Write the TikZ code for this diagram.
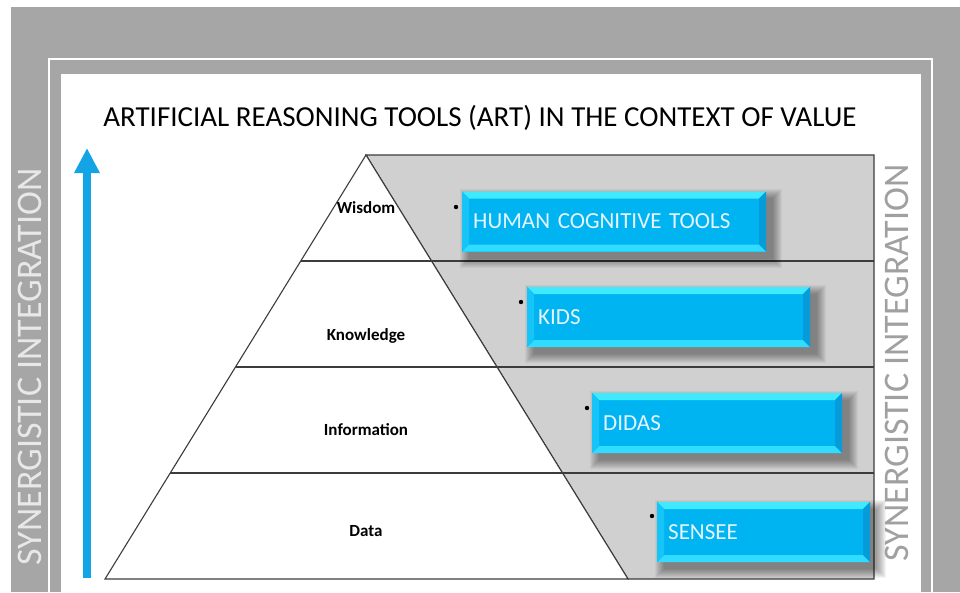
\documentclass[tikz,border=0pt]{standalone}
\usepackage{fontspec}
\setmainfont{Carlito}
\usetikzlibrary{arrows.meta,calc}
\pgfdeclarelayer{back}
\pgfdeclarelayer{shadowlayer}
\pgfsetlayers{back,shadowlayer,main}
\definecolor{bg}{HTML}{A6A6A6}
\definecolor{greyreg}{HTML}{D0D0D0}
\definecolor{lines}{HTML}{3C3C3C}
\definecolor{arrowblue}{HTML}{12A4E4}
\definecolor{boxmain}{HTML}{00B4F2}
\definecolor{bevtop}{HTML}{3FEAFF}
\definecolor{bevbot}{HTML}{30DCFF}
\definecolor{bevleft}{HTML}{16C4F8}
\definecolor{bevright}{HTML}{069CDA}
\definecolor{boxtext}{HTML}{E6F4FF}
\definecolor{righttext}{HTML}{A0A0A0}
\definecolor{lefttext}{HTML}{E8E8E8}
\newcommand{\bevelpic}{%
  \fill[bevtop] (path picture bounding box.north west) -- (path picture bounding box.north east) -- ([shift={(-7pt,-7pt)}]path picture bounding box.north east) -- ([shift={(7pt,-7pt)}]path picture bounding box.north west) -- cycle;
  \fill[bevbot] (path picture bounding box.south west) -- (path picture bounding box.south east) -- ([shift={(-7pt,7pt)}]path picture bounding box.south east) -- ([shift={(7pt,7pt)}]path picture bounding box.south west) -- cycle;
  \fill[bevleft] (path picture bounding box.north west) -- (path picture bounding box.south west) -- ([shift={(7pt,7pt)}]path picture bounding box.south west) -- ([shift={(7pt,-7pt)}]path picture bounding box.north west) -- cycle;
  \fill[bevright] (path picture bounding box.north east) -- (path picture bounding box.south east) -- ([shift={(-7pt,7pt)}]path picture bounding box.south east) -- ([shift={(-7pt,-7pt)}]path picture bounding box.north east) -- cycle;
}
\newcommand{\softshadow}[1]{%
  \begin{pgfonlayer}{shadowlayer}
  \foreach \k in {0,...,9}{
    \fill[black, opacity=0.045] ([shift={(7pt-\k pt,-7pt+\k pt)}]#1.north west) rectangle ([shift={(7pt+\k pt,-7pt-\k pt)}]#1.south east);
  }
  \end{pgfonlayer}}
\tikzset{
  toolbox/.style={rectangle, fill=boxmain, minimum height=60pt, text=boxtext,
    font=\fontsize{23}{25}\selectfont, align=left, inner xsep=11pt, inner ysep=0pt, anchor=west,
    path picture={\bevelpic}},
  lvl/.style={font=\fontsize{17}{19}\selectfont\bfseries, text=black},
  bulletdot/.style={fill=black},
  sidetext/.style={rotate=90, font=\fontsize{36}{36}\selectfont},
  frameline/.style={draw=white, line width=1.6pt},
  pyr/.style={draw=lines, line width=1.1pt}
}
\begin{document}
\begin{tikzpicture}[x=1pt,y=-1pt]
\useasboundingbox (0,0) rectangle (960,592);
\begin{pgfonlayer}{back}
% background and frame
\fill[white] (0,0) rectangle (960,592);
\fill[bg] (11,7) rectangle (960,592);
\draw[frameline] (49,592) -- (49,59) -- (932,59) -- (932,592);
\fill[white] (61,74) rectangle (921,592);
% pyramid
\coordinate (apex) at (366,155);
\coordinate (bl) at (105,579);
\coordinate (br) at (628,579);
\coordinate (gtr) at (874,155);
\coordinate (gbr) at (874,579);
\filldraw[pyr, fill=greyreg] (apex) -- (gtr) -- (gbr) -- (br) -- cycle;
\filldraw[pyr, fill=white] (apex) -- (bl) -- (br) -- cycle;
\coordinate (l1) at ($(apex)!0.25!(bl)$);
\coordinate (l2) at ($(apex)!0.5!(bl)$);
\coordinate (l3) at ($(apex)!0.75!(bl)$);
\draw[pyr] (l1) -- (l1 -| gtr);
\draw[pyr] (l2) -- (l2 -| gtr);
\draw[pyr] (l3) -- (l3 -| gtr);
\end{pgfonlayer}
% title
\node[font=\fontsize{29}{32}\selectfont] (title) at (480,118) {ARTIFICIAL REASONING TOOLS (ART) IN THE CONTEXT OF VALUE};
% side texts
\node[sidetext, text=lefttext] (synL) at (30,367) {SYNERGISTIC INTEGRATION};
\node[sidetext, text=righttext] (synR) at (897,363) {SYNERGISTIC INTEGRATION};
% arrow
\coordinate (arrS) at (87,578);
\coordinate (arrE) at (87,148);
\draw[arrowblue, line width=8pt, -{Triangle[width=24pt,length=25pt]}] (arrS) -- (arrE);
% level labels
\node[lvl] (wis) at (366,208) {Wisdom};
\node[lvl] (kno) at (366,336) {Knowledge};
\node[lvl] (inf) at (366,430) {Information};
\node[lvl] (dat) at (366,531) {Data};
% tool boxes
\node[toolbox, text width=282pt] (hct) at (462,221.5) {HUMAN COGNITIVE TOOLS};
\node[toolbox, text width=261pt] (kids) at (527,317) {KIDS};
\node[toolbox, text width=228pt] (didas) at (592,423) {DIDAS};
\node[toolbox, text width=191pt] (sensee) at (657,532) {SENSEE};
\softshadow{hct}
\softshadow{kids}
\softshadow{didas}
\softshadow{sensee}
\fill[bulletdot] (456,207) circle (2.2pt);
\fill[bulletdot] (521,302) circle (2.2pt);
\fill[bulletdot] (587,408) circle (2.2pt);
\fill[bulletdot] (652,516) circle (2.2pt);
\end{tikzpicture}
\end{document}
